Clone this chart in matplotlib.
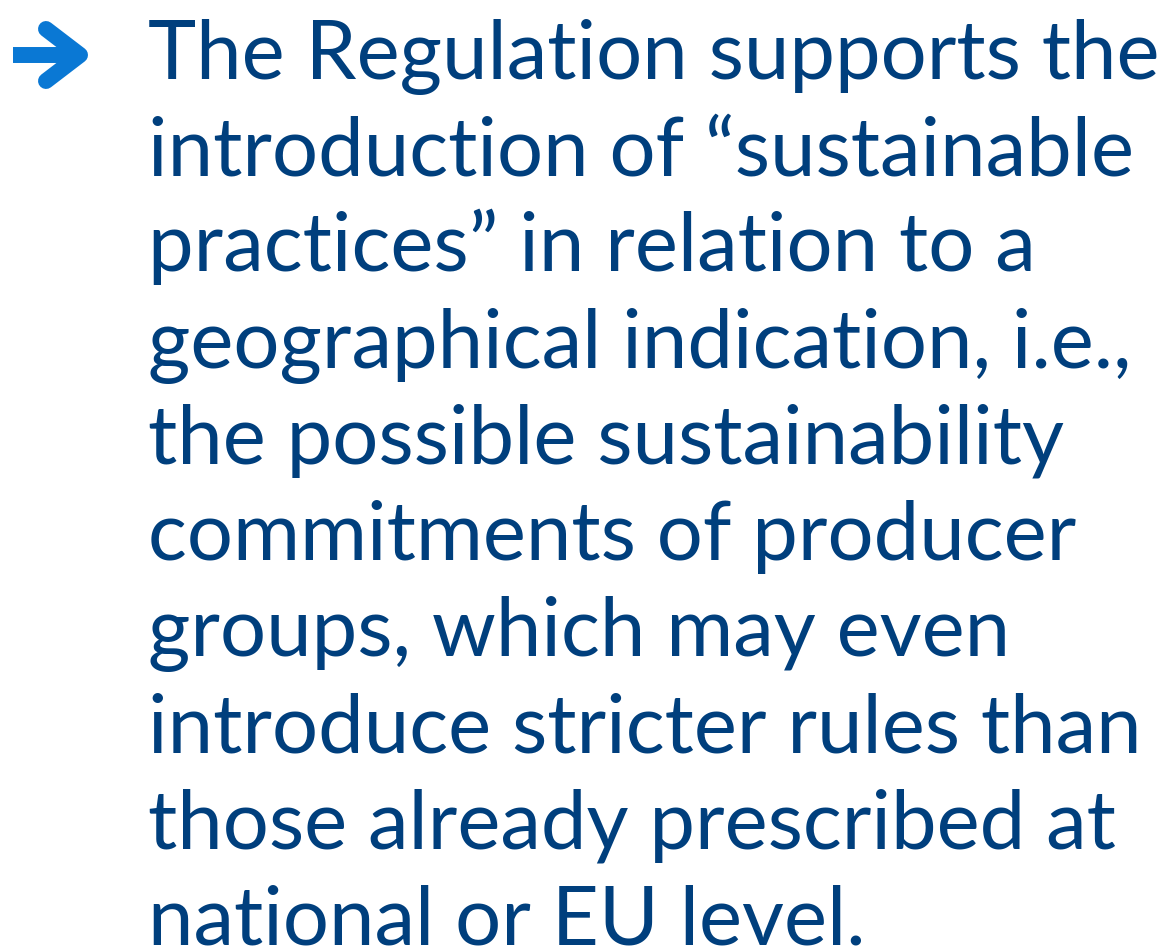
import matplotlib
matplotlib.use('agg')
import matplotlib.pyplot as plt
from matplotlib.lines import Line2D

# text content, one entry per rendered line
lines = [
    "The Regulation supports the",
    "introduction of \u201csustainable",
    "practices\u201d in relation to a",
    "geographical indication, i.e.,",
    "the possible sustainability",
    "commitments of producer",
    "groups, which may even",
    "introduce stricter rules than",
    "those already prescribed at",
    "national or EU level.",
]

text_color = '#003f7d'
arrow_color = '#0a78d4'

W, H = 1167, 946
fig = plt.figure(figsize=(W / 100, H / 100), dpi=100)
fig.patch.set_facecolor('white')

left_px = 148
first_base = 79
line_step = 96.2
target_w = 1012  # width of first line in pixels

texts = []
for i, s in enumerate(lines):
    t = fig.text(left_px / W, 1 - (first_base + i * line_step) / H, s,
                 fontsize=60, family=['Lato', 'DejaVu Sans'], color=text_color,
                 ha='left', va='baseline')
    texts.append(t)

# scale font size so the first line spans the same width as the reference
fig.canvas.draw()
r = fig.canvas.get_renderer()
w0 = texts[0].get_window_extent(r).width
for t in texts:
    t.set_fontsize(60 * target_w / w0)

# arrow marker at the top left
px = lambda x, y: (x / W, 1 - y / H)
shaft = Line2D(*zip(px(13, 55), px(80, 55)), transform=fig.transFigure,
               color=arrow_color, lw=11.5, solid_capstyle='butt')
head = Line2D(*zip(px(46, 29), px(80, 55), px(46, 81)), transform=fig.transFigure,
              color=arrow_color, lw=11.5, solid_capstyle='round', solid_joinstyle='round')
fig.add_artist(shaft)
fig.add_artist(head)

plt.savefig('out.png', dpi=100)
